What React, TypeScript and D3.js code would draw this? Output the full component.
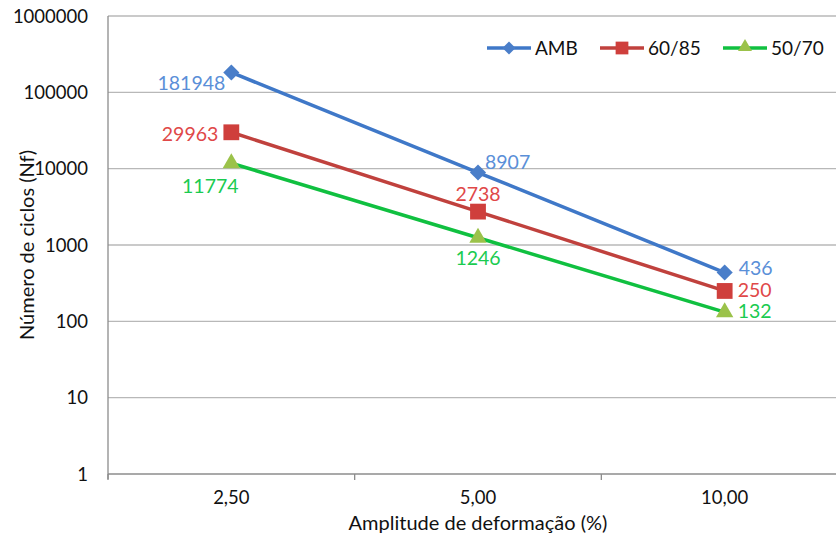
import React, { useEffect, useRef } from "react";
import * as d3 from "d3";

const categories = ["2,50", "5,00", "10,00"];
const seriesNames = ["AMB", "60/85", "50/70"];
const ambValues = [181948, 8907, 436];
const p6085Values = [29963, 2738, 250];
const p5070Values = [11774, 1246, 132];
const yTicks = [1, 10, 100, 1000, 10000, 100000, 1000000];

const lineColors = ["#3F78C8", "#C0413D", "#10C040"];
const markerColors = ["#4A7EC9", "#CF3F3C", "#9BC24A"];
const labelColors = ["#5A8FD8", "#E04848", "#1ACB50"];
// label placement per series/point: [dx, dy, anchor]
const labelPos: [number, number, string][][] = [
  [[-6, 10, "end"], [7, -11, "start"], [14, -5, "start"]],
  [[-13, 2, "end"], [0, -18, "middle"], [13, -1, "start"]],
  [[-21, 23, "middle"], [0, 20, "middle"], [13, -1, "start"]],
];

const App = () => {
  const ref = useRef<SVGSVGElement>(null);

  useEffect(() => {
    const svg = d3.select(ref.current);
    svg.selectAll("*").remove();
    const width = 836;
    const height = 538;
    const margin = { top: 16, right: -12, bottom: 64, left: 108 };
    const font = "Lato, 'Open Sans', sans-serif";
    const data = [ambValues, p6085Values, p5070Values];

    const x = d3.scaleBand().domain(categories).range([margin.left, width - margin.right]);
    const y = d3.scaleLog().domain([1, 1000000]).range([height - margin.bottom, margin.top]);

    const g = svg.append("g");

    g.selectAll("line.grid")
      .data(yTicks)
      .join("line")
      .attr("x1", margin.left)
      .attr("x2", width)
      .attr("y1", (d) => y(d))
      .attr("y2", (d) => y(d))
      .attr("stroke", (d) => (d === 1 ? "#8C8C8C" : "#B8B8B8"))
      .attr("stroke-width", 1.3);

    g.append("line")
      .attr("x1", margin.left)
      .attr("x2", margin.left)
      .attr("y1", margin.top)
      .attr("y2", y(1) + 5)
      .attr("stroke", "#8C8C8C")
      .attr("stroke-width", 1.3);

    g.selectAll("line.xtick")
      .data(categories)
      .join("line")
      .attr("x1", (d) => x(d)!)
      .attr("x2", (d) => x(d)!)
      .attr("y1", y(1))
      .attr("y2", y(1) + 6)
      .attr("stroke", "#8C8C8C")
      .attr("stroke-width", 1.3);

    g.selectAll("text.ytick")
      .data(yTicks)
      .join("text")
      .attr("x", margin.left - 20)
      .attr("y", (d) => y(d))
      .attr("dy", "0.36em")
      .attr("text-anchor", "end")
      .attr("font-family", font)
      .attr("font-size", 18.5)
      .attr("fill", "#111")
      .text((d) => String(d));

    g.selectAll("text.xtick")
      .data(categories)
      .join("text")
      .attr("x", (d) => x(d)! + x.bandwidth() / 2)
      .attr("y", y(1) + 30)
      .attr("text-anchor", "middle")
      .attr("font-family", font)
      .attr("font-size", 18.5)
      .attr("fill", "#111")
      .text((d) => d);

    g.append("text")
      .attr("x", 478)
      .attr("y", 530)
      .attr("text-anchor", "middle")
      .attr("font-family", font)
      .attr("font-size", 20)
      .attr("fill", "#111")
      .text("Amplitude de deformação (%)");

    g.append("text")
      .attr("transform", `translate(34,${(margin.top + y(1)) / 2}) rotate(-90)`)
      .attr("text-anchor", "middle")
      .attr("font-family", font)
      .attr("font-size", 20)
      .attr("fill", "#111")
      .text("Número de ciclos (Nf)");

    const cx = (i: number) => x(categories[i])! + x.bandwidth() / 2;
    const line = d3
      .line<number>()
      .x((_, i) => cx(i))
      .y((d) => y(d));

    const marker = (s: number, scale: number) => {
      if (s === 0) return { d: d3.symbol().type(d3.symbolSquare).size(130 * scale)()!, rot: 45 };
      if (s === 1) return { d: d3.symbol().type(d3.symbolSquare).size(250 * scale)()!, rot: 0 };
      return { d: d3.symbol().type(d3.symbolTriangle).size(130 * scale)()!, rot: 0 };
    };

    data.forEach((vals, s) => {
      g.append("path")
        .attr("d", line(vals)!)
        .attr("fill", "none")
        .attr("stroke", lineColors[s])
        .attr("stroke-width", 3.5);
      const m = marker(s, 1);
      g.selectAll(`path.m${s}`)
        .data(vals)
        .join("path")
        .attr("transform", (d, i) => `translate(${cx(i)},${y(d)}) rotate(${m.rot})`)
        .attr("d", m.d)
        .attr("fill", markerColors[s]);
      g.selectAll(`text.l${s}`)
        .data(vals)
        .join("text")
        .attr("x", (d, i) => cx(i) + labelPos[s][i][0])
        .attr("y", (d, i) => y(d) + labelPos[s][i][1])
        .attr("dy", "0.36em")
        .attr("text-anchor", (d, i) => labelPos[s][i][2])
        .attr("font-family", font)
        .attr("font-size", 19.5)
        .attr("fill", labelColors[s])
        .text((d) => String(d));
    });

    // legend
    const legendX = [487, 600, 723];
    seriesNames.forEach((name, s) => {
      const lg = g.append("g").attr("transform", `translate(${legendX[s]},48)`);
      lg.append("line")
        .attr("x1", 0)
        .attr("x2", 44)
        .attr("stroke", lineColors[s])
        .attr("stroke-width", 3.5);
      const m = marker(s, 0.65);
      lg.append("path")
        .attr("transform", `translate(22,${s === 2 ? -1 : 0}) rotate(${m.rot})`)
        .attr("d", m.d)
        .attr("fill", markerColors[s]);
      lg.append("text")
        .attr("x", 48)
        .attr("dy", "0.36em")
        .attr("font-family", font)
        .attr("font-size", 19)
        .attr("fill", "#111")
        .text(name);
    });
  }, []);

  return (
    <svg
      ref={ref}
      width={836}
      height={538}
      style={{ position: "absolute", left: 0, top: 0, background: "#fff" }}
    />
  );
};

export default App;
